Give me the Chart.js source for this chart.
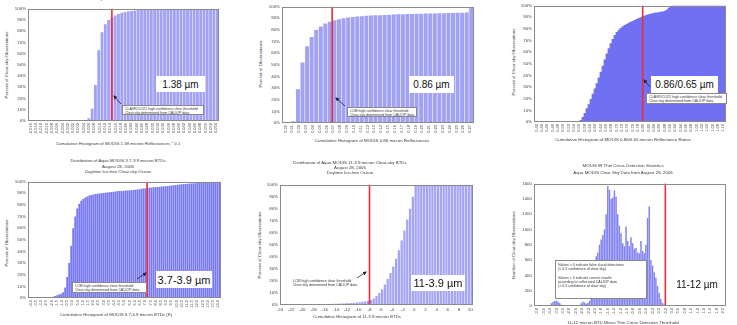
<!DOCTYPE html>
<html><head><meta charset="utf-8">
<script src="https://cdn.jsdelivr.net/npm/chart.js@4.4.1/dist/chart.umd.min.js"></script>
<style>
body{margin:0;width:737px;height:325px;overflow:hidden;background:#fff;position:relative;font-family:"Liberation Sans",Arial,sans-serif;}
canvas{position:absolute;z-index:1;}
.t{position:absolute;white-space:nowrap;color:#3a3a3a;font-size:4.4px;line-height:1;z-index:2;}
.tc{transform:translate(-50%,-50%);}
.yt{transform:translate(-50%,-50%) rotate(-90deg);}
.big{position:absolute;background:#fff;color:#111;display:flex;align-items:center;justify-content:center;z-index:3;white-space:nowrap;}
.note{position:absolute;background:#fff;border:0.6px solid #888;font-size:3.6px;line-height:4.2px;padding:0.6px 2px;color:#333;white-space:nowrap;box-sizing:border-box;z-index:3;}
</style></head>
<body>
<div id="charts"></div>

<!-- titles -->
<div class="t tc" style="left:118px;top:-1px">Daytime Ice-free Ocean</div>
<div class="t tc" style="left:118px;top:144px">Cumulative Histogram of MODIS 1.38 micron Reflectances * 0.1</div>
<div class="t yt" style="left:7px;top:65px">Percent of Clear-sky Observations</div>

<div class="t tc" style="left:372px;top:141px">Cumulative Histogram of MODIS 0.86 micron Reflectances</div>
<div class="t yt" style="left:261px;top:64px">Percent of Observations</div>

<div class="t tc" style="left:623px;top:140px">Cumulative Histogram of MODIS 0.86/0.65 micron Reflectance Ratios</div>
<div class="t yt" style="left:514px;top:62px">Percent of Clear-sky Observations</div>

<div class="t tc" style="left:118px;top:160.5px">Distribution of Aqua MODIS 3.7-3.9 micron BTDs</div>
<div class="t tc" style="left:118px;top:166.5px">August 28, 2006</div>
<div class="t tc" style="left:118px;top:171.7px">Daytime Ice-free Clear-sky Ocean</div>
<div class="t tc" style="left:116px;top:315px">Cumulative Histogram of MODIS 3.7-3.9 micron BTDs (K)</div>
<div class="t yt" style="left:7px;top:243px">Percent of Observations</div>

<div class="t tc" style="left:350px;top:162.7px">Distribution of Aqua MODIS 11-3.9 micron Clear-sky BTDs</div>
<div class="t tc" style="left:350px;top:167.8px">August 28, 2006</div>
<div class="t tc" style="left:350px;top:173.3px">Daytime Ice-free Ocean</div>
<div class="t tc" style="left:357px;top:317px">Cumulative Histogram of 11-3.9 micron BTDs</div>
<div class="t yt" style="left:260px;top:245px">Percent of Clear-sky Observations</div>

<div class="t tc" style="left:623px;top:166px">MODIS IR Thin Cirrus Detection Statistics</div>
<div class="t tc" style="left:623px;top:173.3px">Aqua MODIS Clear Sky Data from August 28, 2006</div>
<div class="t tc" style="left:623px;top:322.5px">11-12 micron BTD Minus Thin Cirrus Detection Threshold</div>
<div class="t yt" style="left:514px;top:245px">Number of Clear-sky Observations</div>

<!-- notes -->
<div class="note" style="left:122px;top:105px;width:82px;height:10px">CLAVR/CO21 high confidence clear threshold<br>Clear sky determined from CALIOP data</div>
<div class="note" style="left:347px;top:107px;width:70px;height:10px">LCM high confidence clear threshold<br>Clear sky determined from CALIOP data</div>
<div class="note" style="left:646px;top:93px;width:81px;height:11px">CLAVR/CO21 high confidence clear threshold<br>Clear sky determined from CALIOP data</div>
<div class="note" style="left:72px;top:282px;width:75px;height:11px">LCM high confidence clear threshold<br>Clear sky determined from CALIOP data</div>
<div class="note" style="left:291px;top:278px;width:66px;height:10px;border:none;background:transparent">LCM high confidence clear threshold<br>Clear sky determined from CALIOP data</div>
<div class="note" style="left:555px;top:260px;width:92px;height:38.5px;padding-top:2px">Values &gt; 0 indicate false cloud detections<br>(&lt; 0.5 confidence of clear sky)<br><br>Values &lt; 0 indicate correct results<br>according to collocated CALIOP data<br>(&gt; 0.5 confidence of clear sky)</div>

<!-- big labels -->
<div class="big" style="left:156px;top:76px;width:49px;height:16px;font-size:10px">1.38 µm</div>
<div class="big" style="left:409px;top:76px;width:45px;height:17px;font-size:10px">0.86 µm</div>
<div class="big" style="left:651px;top:76px;width:67px;height:17px;font-size:10px">0.86/0.65 µm</div>
<div class="big" style="left:156px;top:271px;width:56px;height:17px;font-size:11px">3.7-3.9 µm</div>
<div class="big" style="left:411px;top:275px;width:54px;height:16px;font-size:11px">11-3.9 µm</div>
<div class="big" style="left:672px;top:276px;width:50px;height:16px;font-size:10px">11-12 µm</div>

<svg width="737" height="325" style="position:absolute;left:0;top:0;z-index:4;pointer-events:none">
<defs><marker id="ah" markerWidth="4" markerHeight="4" refX="3" refY="2" orient="auto" markerUnits="userSpaceOnUse"><path d="M0,0 L4,2 L0,4 z" fill="#223"/></marker></defs>
<g stroke="#223" stroke-width="0.8" marker-end="url(#ah)">
<line x1="121" y1="104" x2="114" y2="96"/>
<line x1="345" y1="106" x2="336" y2="98"/>
<line x1="650" y1="87" x2="644" y2="80"/>
<line x1="137" y1="279" x2="146" y2="273"/>
<line x1="357" y1="278" x2="366" y2="272"/>
</g>
</svg>

<script>
// ---------- DATA ----------
// Panel 1: cumulative histogram of MODIS 1.38 micron reflectances * 0.1 (percent)
const p1TickLabels = ["-0.016","-0.014","-0.012","-0.010","-0.008","-0.006","-0.004","-0.002","0.000","0.002","0.004","0.006","0.008","0.010","0.012","0.014","0.016","0.018","0.020","0.022","0.024","0.026","0.028","0.030","0.032","0.034","0.036","0.038","0.040","0.042","0.044","0.046","0.048","0.050","0.052","0.054"];
const p1Values = [0,0,0,0,0,0,0,0,0,0,0,0,0,0.05,0.1,0.2,0.4,0.9,2.5,11,32,63,79,86,90,92.3,94,95.3,96.3,97,97.6,98,98.4,98.7,98.9,99.1,99.2,99.3,99.4,99.45,99.5,99.55,99.6,99.65,99.7,99.72,99.75,99.78,99.8,99.82,99.84,99.86,99.88,99.9,99.92,99.94,99.96,99.98];
const p1Threshold = 25.0;

// Panel 2: cumulative histogram of MODIS 0.86 micron reflectances (percent)
const p2TickLabels = ["0.00","0.01","0.02","0.03","0.04","0.05","0.06","0.07","0.08","0.09","0.10","0.11","0.12","0.13","0.14","0.15","0.16","0.17","0.18","0.19","0.20","0.21","0.22","0.23","0.24","0.25","0.26","0.27"];
const p2Values = [0,0,1.5,29,52,66,74,80,83,85.5,87,88.2,89.2,90,90.6,91.1,91.5,91.8,92.1,92.3,92.5,92.7,92.9,93.1,93.2,93.4,93.5,93.6,93.7,93.8,93.9,94,94.1,94.2,94.3,94.4,94.5,94.6,94.7,94.8,94.9,100];
const p2Threshold = 10.5;

// Panel 3: cumulative histogram of MODIS 0.86/0.65 micron reflectance ratios (percent)
const p3TickLabels = ["0.40","0.42","0.44","0.46","0.48","0.50","0.52","0.54","0.56","0.58","0.60","0.62","0.64","0.66","0.68","0.70","0.72","0.74","0.76","0.78","0.80","0.82","0.84","0.86","0.88","0.90","0.92","0.94","0.96","0.98","1.00","1.02","1.04","1.06","1.08","1.10"];
const p3Values = [0,0,0,0,0,0,0,0,0,0,0,0,0,0,0,0,0,0,0,0,0,0,0.3,1.5,4,7.5,11.5,15,19.5,24,28.5,33,38,43,48,53.5,58.5,63,67.5,71,74.5,77,79,80.5,82,83,84,85,85.8,86.6,87.4,88.2,89,89.8,90.6,91.2,91.8,92.4,92.8,93.2,93.5,93.8,94.1,94.4,94.7,95.1,96.2,97.8,99.3,100,100,100,100,100,100,100,100,100,100,100,100,100,100,100,100,100,100,100,100,100,100,100,100,100,100,100];
const p3Threshold = 53.9;

// Panel 4: cumulative histogram of MODIS 3.7-3.9 micron BTDs (percent)
const p4TickLabels = ["-4.0","-3.5","-3.0","-2.5","-2.0","-1.5","-1.0","-0.5","0.0","0.5","1.0","1.5","2.0","2.5","3.0","3.5","4.0","4.5","5.0","5.5","6.0","6.5","7.0","7.5","8.0","8.5","9.0","9.5","10.0","10.5","11.0","11.5","12.0","12.5","13.0","13.5","14.0"];
const p4Values = [0,0,0,0,0,0,0,0,0,0.1,0.3,0.6,1.1,1.7,2.3,3,3.7,5,9,18,30,45,60,70,77,81,83.5,85,86.3,87.3,88,88.6,89,89.3,89.6,89.9,90.1,90.3,90.5,90.7,90.9,91.1,91.3,91.5,91.7,91.9,92,92.1,92.3,92.4,92.6,92.7,92.9,93,93.2,93.5,93.8,94.1,94.4,94.6,94.8,95,95.2,95.4,95.5,95.7,95.8,96,96.1,96.3,96.5,96.7,96.9,97.1,97.3,97.5,97.7,97.9,98,98.2,98.3,98.5,98.6,98.7,98.8,98.9,99,99.1,99.2,99.3,99.4,99.5,99.6,99.7,99.8,99.9];
const p4Threshold = 58.8;

// Panel 5: cumulative histogram of 11-3.9 micron BTDs (percent), 0.5 K bins
const p5Bins = [-24,-23.5,-23,-22.5,-22,-21.5,-21,-20.5,-20,-19.5,-19,-18.5,-18,-17.5,-17,-16.5,-16,-15.5,-15,-14.5,-14,-13.5,-13,-12.5,-12,-11.5,-11,-10.5,-10,-9.5,-9,-8.5,-8,-7.5,-7,-6.5,-6,-5.5,-5,-4.5,-4,-3.5,-3,-2.5,-2,-1.5,-1,-0.5,0,0.5,1,1.5,2,2.5,3,3.5,4,4.5,5,5.5,6,6.5,7,7.5,8,8.5,9,9.5,10];
const p5Values = [0.1,0.1,0.15,0.2,0.2,0.25,0.3,0.3,0.35,0.4,0.45,0.5,0.55,0.6,0.65,0.7,0.8,0.85,0.9,1.0,1.1,1.2,1.3,1.4,1.5,1.7,1.9,2.1,2.3,2.6,3.0,3.5,4.2,5.5,7.5,10,13,17,21.5,26.5,32,38.5,45.5,53.5,62,71,80,90,100,100,100,100,100,100,100,100,100,100,100,100,100,100,100,100,100,100,100,100,100];
const p5AxisMin = -24, p5AxisMax = 10.5, p5Threshold = -8;

// Panel 6: histogram of 11-12 micron BTD minus thin cirrus threshold (counts)
const p6TickLabels = ["-3.8","-3.6","-3.4","-3.2","-3.0","-2.8","-2.6","-2.4","-2.2","-2.0","-1.8","-1.6","-1.4","-1.2","-1.0","-0.8","-0.6","-0.4","-0.2","0.0","0.2","0.4","0.6","0.8","1.0","1.2","1.4","1.6","1.8","2.0"];
const p6Values = [0,0,0,0,0,0,0,0,0,10,35,55,65,70,60,40,15,3,0,0,0,0,0,0,0,0,2,5,35,55,45,30,40,70,110,220,420,650,700,800,870,930,1000,1200,1570,1520,1400,1420,1510,1430,1200,1050,950,820,780,1040,850,780,900,820,750,760,700,690,850,720,690,800,1150,1300,600,530,440,370,260,170,90,40,20,10,6,5,4,3,3,2,2,1,1,0,0,0,0,0,0,0,0,0,0,0,0,0,0,0,0,0,0,0,0,0,0,0,0,0,0,0];
const p6Threshold = 78.7;

// ---------- RENDER ----------
const FONT = '"Liberation Sans", Arial, sans-serif';
Chart.defaults.font.family = FONT;

const overlay = {
  id: 'overlay',
  afterDatasetsDraw(chart, args, opts) {
    const {ctx, chartArea: a} = chart;
    if (opts.line !== undefined) {
      const x = chart.scales[opts.lineAxis].getPixelForValue(opts.line);
      ctx.save();
      ctx.strokeStyle = '#f02a36'; ctx.lineWidth = 1.6;
      ctx.beginPath(); ctx.moveTo(x, a.top); ctx.lineTo(x, a.bottom); ctx.stroke();
      ctx.restore();
    }
    ctx.save();
    ctx.strokeStyle = '#8a8a8a'; ctx.lineWidth = 1;
    ctx.strokeRect(Math.round(a.left) + 0.5, Math.round(a.top) + 0.5, Math.round(a.right - a.left) - 1, Math.round(a.bottom - a.top) - 1);
    ctx.restore();
  }
};

const pctFmt = v => v + '%';

function panel(o) {
  const padT = 3, padR = 3, a = o.area;
  const W = a.r - a.l + o.yW + padR, H = a.b - a.t + padT + o.xH;
  const cv = document.createElement('canvas');
  cv.width = W; cv.height = H;
  cv.style.cssText = `left:${a.l - o.yW}px;top:${a.t - padT}px;width:${W}px;height:${H}px`;
  document.getElementById('charts').appendChild(cv);
  const lab = Object.assign({
    position: 'bottom',
    grid: {display: false, drawTicks: false},
    border: {display: false},
    afterFit: s => { s.height = o.xH; }
  }, o.labAxis);
  new Chart(cv, {
    type: 'bar',
    data: {
      labels: o.values.map((_, i) => i),
      datasets: [{data: o.values, backgroundColor: o.color, borderWidth: 0,
        barPercentage: o.barPct, categoryPercentage: 1, xAxisID: 'x', yAxisID: 'y'}]
    },
    options: {
      responsive: false, animation: false, devicePixelRatio: 1,
      layout: {autoPadding: false, padding: {top: padT, right: padR, left: 0, bottom: 0}},
      plugins: {legend: {display: false}, tooltip: {enabled: false},
        overlay: {line: o.line, lineAxis: o.lineAxis || 'x'}},
      scales: {
        x: {type: 'category', display: false, offset: true},
        y: {type: 'linear', min: 0, max: o.yMax,
          ticks: {stepSize: o.yStep, autoSkip: false, callback: o.yFmt,
            font: {size: 4.4}, color: '#444', padding: 2},
          grid: {display: false, drawTicks: false}, border: {display: false},
          afterFit: s => { s.width = o.yW; }},
        lab: lab
      }
    },
    plugins: [overlay]
  });
}

function catAxis(labels) {
  return {type: 'category', labels: labels, offset: true,
    ticks: {autoSkip: false, minRotation: 90, maxRotation: 90, font: {size: 4}, color: '#4a4a4a', padding: 2}};
}

panel({area: {l: 28, r: 220, t: 7, b: 121}, yW: 16, xH: 18, values: p1Values, color: '#a2a2f5', barPct: 0.86,
  yMax: 100, yStep: 10, yFmt: pctFmt, line: p1Threshold, labAxis: catAxis(p1TickLabels)});
panel({area: {l: 282, r: 474, t: 5, b: 123}, yW: 16, xH: 16, values: p2Values, color: '#a2a2f5', barPct: 0.88,
  yMax: 100, yStep: 10, yFmt: pctFmt, line: p2Threshold, labAxis: catAxis(p2TickLabels)});
panel({area: {l: 534, r: 727, t: 4, b: 122}, yW: 16, xH: 16, values: p3Values, color: '#7070f2', barPct: 1,
  yMax: 100, yStep: 10, yFmt: pctFmt, line: p3Threshold, labAxis: catAxis(p3TickLabels)});
panel({area: {l: 28, r: 222, t: 180, b: 298}, yW: 16, xH: 15, values: p4Values, color: '#7878f2', barPct: 0.9,
  yMax: 100, yStep: 10, yFmt: pctFmt, line: p4Threshold, labAxis: catAxis(p4TickLabels)});
panel({area: {l: 280, r: 473, t: 183, b: 305}, yW: 16, xH: 9, values: p5Values, color: '#a4a4f6', barPct: 0.82,
  yMax: 100, yStep: 10, yFmt: pctFmt, line: p5Threshold, lineAxis: 'lab',
  labAxis: {type: 'linear', min: p5AxisMin, max: p5AxisMax, offset: false,
    ticks: {stepSize: 2, includeBounds: false, autoSkip: false, minRotation: 0, maxRotation: 0, font: {size: 4.4}, color: '#444', padding: 2}}});
panel({area: {l: 534, r: 727, t: 182, b: 306}, yW: 16, xH: 12, values: p6Values, color: '#8484f0', barPct: 0.9,
  yMax: 1600, yStep: 200, yFmt: v => v, line: p6Threshold, labAxis: catAxis(p6TickLabels)});
</script>
</body></html>
